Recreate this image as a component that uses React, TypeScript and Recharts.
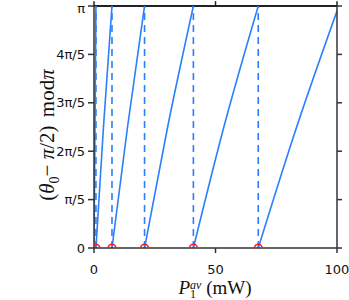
import {
  ComposedChart,
  Line,
  Scatter,
  XAxis,
  YAxis,
  ReferenceLine,
  Label,
} from 'recharts'

// phase values are in units of pi
const zeroCrossings = [0.8, 7.4, 20.8, 40.9, 67.6]

const branch0 = [
  { x: 0.0, y: 0.0 },
  { x: 0.8, y: 1.0 },
]
const branch1 = [
  { x: 0.8, y: 0.0 },
  { x: 3.9, y: 0.5 },
  { x: 7.4, y: 1.0 },
]
const branch2 = [
  { x: 7.4, y: 0.0 },
  { x: 13.8, y: 0.5 },
  { x: 20.8, y: 1.0 },
]
const branch3 = [
  { x: 20.8, y: 0.0 },
  { x: 30.3, y: 0.5 },
  { x: 40.9, y: 1.0 },
]
const branch4 = [
  { x: 40.9, y: 0.0 },
  { x: 53.6, y: 0.506 },
  { x: 67.6, y: 1.0 },
]
const branch5 = [
  { x: 67.6, y: 0.0 },
  { x: 83.6, y: 0.506 },
  { x: 100, y: 0.979 },
]
const branches = [branch0, branch1, branch2, branch3, branch4, branch5]

const xTicks = [0, 50, 100]
const yTicks = [0, 0.2, 0.4, 0.6, 0.8, 1]
const yTickLabels = ['0', 'π/5', '2π/5', '3π/5', '4π/5', 'π']

const circles = zeroCrossings.map((x) => ({ x, y: 0 }))

const BLUE = '#2a7fff'
const AXIS = '#333'
const tickFont = { fontSize: 13, fill: '#111', fontFamily: 'DejaVu Sans' }

function OpenCircle(props: any) {
  const { cx, cy } = props
  if (cx == null || cy == null) return null
  return <circle cx={cx} cy={cy} r={3.8} fill="none" stroke="#ff1a1a" strokeWidth={1.6} />
}

function XTitle() {
  return (
    <text x={215} y={294} textAnchor="middle" fontFamily="Liberation Serif" fontSize={19} fill="#111">
      <tspan fontStyle="italic">P</tspan>
      <tspan fontSize={12} dy={4}>1</tspan>
      <tspan fontSize={12} fontStyle="italic" dx={-6} dy={-9}>av</tspan>
      <tspan dy={5}>{'  (mW)'}</tspan>
    </text>
  )
}

function YTitle() {
  return (
    <text
      transform="translate(54,135) rotate(-90)"
      textAnchor="middle"
      fontFamily="Liberation Serif"
      fontSize={21}
      fill="#111"
    >
      <tspan>(</tspan>
      <tspan fontStyle="italic">θ</tspan>
      <tspan fontSize={14} dy={5}>0</tspan>
      <tspan dy={-5}>{'− '}</tspan>
      <tspan fontStyle="italic">π</tspan>
      <tspan>{'/2) '}</tspan>
      <tspan dx={3}>mod</tspan>
      <tspan fontStyle="italic">π</tspan>
    </text>
  )
}

export default function App() {
  return (
    <div style={{ position: 'absolute', left: 0, top: 0 }}>
      <ComposedChart width={349} height={300} margin={{ top: 6, right: 11, left: 0, bottom: 0 }}>
        <XAxis
          type="number"
          dataKey="x"
          domain={[0, 100]}
          ticks={xTicks}
          height={52}
          tickSize={5}
          tickMargin={12}
          stroke={AXIS}
          strokeWidth={1.5}
          tick={tickFont}
          allowDataOverflow
        >
          <Label content={<XTitle />} />
        </XAxis>
        <YAxis
          type="number"
          domain={[0, 1]}
          ticks={yTicks}
          width={94}
          tickSize={6}
          tickMargin={3}
          tickFormatter={(v: number) => yTickLabels[yTicks.indexOf(v)] ?? ''}
          stroke={AXIS}
          strokeWidth={1.5}
          tick={tickFont}
          allowDataOverflow
        >
          <Label content={<YTitle />} />
        </YAxis>
        <YAxis
          yAxisId="right"
          orientation="right"
          type="number"
          domain={[0, 1]}
          ticks={yTicks}
          width={1}
          tickSize={5}
          tickFormatter={() => ''}
          stroke={AXIS}
          strokeWidth={1.5}
          allowDataOverflow
        />
        {/* top frame edge with outward ticks */}
        <ReferenceLine
          yAxisId="right"
          y={1}
          stroke="#222"
          strokeWidth={2}
          ifOverflow="visible"
        />
        {xTicks.map((t) => (
          <ReferenceLine
            key={'t' + t}
            yAxisId="right"
            segment={[
              { x: t, y: 1 },
              { x: t, y: 1.02 },
            ]}
            stroke="#222"
            strokeWidth={1.5}
            ifOverflow="visible"
          />
        ))}
        {zeroCrossings.map((x) => (
          <ReferenceLine
            key={'d' + x}
            x={x}
            stroke={BLUE}
            strokeWidth={1.6}
            strokeDasharray="7 5"
          />
        ))}
        {branches.map((b, i) => (
          <Line
            key={'b' + i}
            data={b}
            dataKey="y"
            type="monotone"
            stroke={BLUE}
            strokeWidth={1.6}
            dot={false}
            isAnimationActive={false}
          />
        ))}
        <Scatter
          data={circles}
          dataKey="y"
          yAxisId="right"
          shape={<OpenCircle />}
          isAnimationActive={false}
        />
      </ComposedChart>
    </div>
  )
}
